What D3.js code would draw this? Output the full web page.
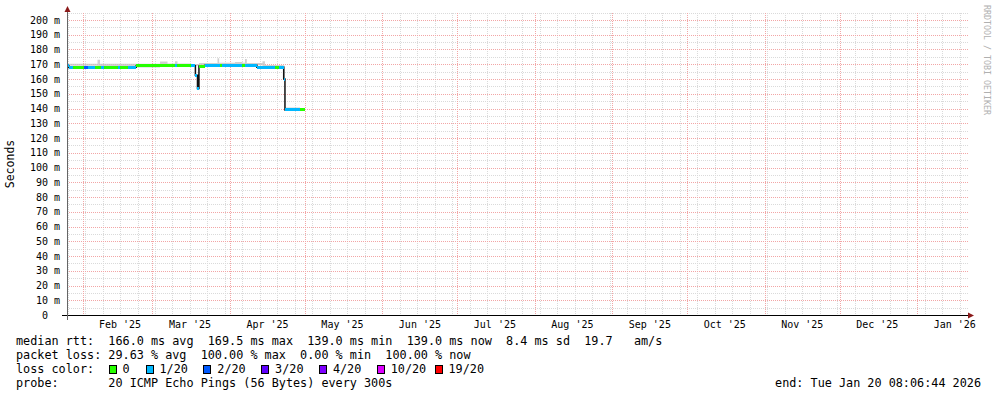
<!DOCTYPE html>
<html>
<head>
<meta charset="utf-8">
<script src="https://cdn.jsdelivr.net/npm/d3@7"></script>
<style>
  body { margin: 0; background: #fff; }
  svg { display: block; font-family: "DejaVu Sans Mono", monospace; }
  text.pre { white-space: pre; }
</style>
</head>
<body>
<svg id="smokeChart"></svg>
<script>
// time window of the graph
const startTime = new Date(2025, 0, 25, 19);
const endTime = new Date(2026, 0, 21, 7);

// month labels on the x axis
const monthLabels = ["Feb '25", "Mar '25", "Apr '25", "May '25", "Jun '25", "Jul '25",
                     "Aug '25", "Sep '25", "Oct '25", "Nov '25", "Dec '25", "Jan '26"];

// y ticks (ms)
const yTickValues = [0, 10, 20, 30, 40, 50, 60, 70, 80, 90, 100, 110, 120, 130, 140, 150, 160, 170, 180, 190, 200];

// median rtt steps: each value holds until the next date, last date closes the line
const medianDates = ["2025-01-25 19", "2025-01-26 12", "2025-01-28 00", "2025-02-01 14", "2025-02-03 00",
                     "2025-02-05 00", "2025-02-06 00", "2025-02-08 06", "2025-02-09 12", "2025-02-15 00",
                     "2025-02-16 00", "2025-02-19 06", "2025-02-22 12", "2025-03-10 00", "2025-03-11 00",
                     "2025-03-16 12", "2025-03-18 04", "2025-03-19 00", "2025-03-19 14", "2025-03-22 00",
                     "2025-03-28 00", "2025-03-29 00", "2025-04-06 00", "2025-04-07 00", "2025-04-11 18",
                     "2025-04-19 00", "2025-04-20 12", "2025-04-22 12", "2025-04-23 00", "2025-04-29 00",
                     "2025-05-01 00"];
const medianRtt = [169.0, 167.8, 167.8, 167.8, 167.8,
                   167.8, 167.8, 168.0, 168.0, 167.8,
                   167.8, 168.0, 169.0, 169.0, 169.0,
                   169.0, 162.5, 153.5, 168.8, 169.3,
                   169.3, 169.3, 169.3, 169.3, 168.0,
                   168.0, 168.0, 160.0, 139.0, 139.0,
                   139.0];
const medianLoss = [1, 1, 0, 2, 1,
                    1, 0, 1, 0, 1,
                    0, 1, 0, 1, 0,
                    1, 1, 1, 0, 1,
                    0, 1, 0, 1, 1,
                    0, 1, 1, 1, 0,
                    0];

// smoke (spread of pings) tops, step wise
const smokeDates = ["2025-01-25 19", "2025-02-07 00", "2025-02-08 00", "2025-03-04 00", "2025-03-07 00",
                    "2025-03-10 00", "2025-03-11 00", "2025-03-16 12", "2025-03-19 14", "2025-03-27 00",
                    "2025-03-27 16", "2025-04-03 00", "2025-04-06 00", "2025-04-07 00", "2025-04-07 18",
                    "2025-04-14 00", "2025-04-15 00", "2025-04-22 12", "2025-04-23 00", "2025-04-29 00",
                    "2025-05-01 00"];
const smokeTop = [170.3, 173.0, 170.3, 171.8, 170.5,
                  172.0, 170.5, 170.2, 170.8, 174.0,
                  171.0, 171.5, 171.0, 173.5, 170.8,
                  172.0, 169.5, 169.0, 140.6, 140.0,
                  140.0];

// loss legend
const lossLabels = ["0", "1/20", "2/20", "3/20", "4/20", "10/20", "19/20"];
const lossColors = ["#26ff00", "#00b8ff", "#0059ff", "#5e00ff", "#7e00ff", "#dd00ff", "#ff0000"];
const lossThresholds = [1, 2, 3, 4, 10, 19];

// legend text rows
const rttRow = ["median rtt:", "166.0 ms avg", "169.5 ms max", "139.0 ms min", "139.0 ms now", "8.4 ms sd", "19.7   am/s"];
const lossRow = ["packet loss:", "29.63 % avg", "100.00 % max", "0.00 % min", "100.00 % now"];
const probeText = "probe:       20 ICMP Echo Pings (56 Bytes) every 300s";
const endText = "end: Tue Jan 20 08:06:44 2026";

// sizes
const widthSVG = 997;
const heightSVG = 397;
const plot = { left: 67, right: 968, top: 13, bottom: 315 };

const SVG = d3.select('svg#smokeChart')
  .attr('width', widthSVG)
  .attr('height', heightSVG);

SVG.append('rect').attr('width', widthSVG).attr('height', heightSVG).attr('fill', '#fff');

const parseTime = d3.timeParse('%Y-%m-%d %H');

const x = d3.scaleTime().domain([startTime, endTime]).range([plot.left, plot.right]);
const y = d3.scaleLinear().domain([0, 200]).range([315, 20]);
const lossColor = d3.scaleThreshold().domain(lossThresholds).range(lossColors);

const px = v => Math.round(v) + 0.5;

// grid
const gridG = SVG.append('g').attr('class', 'grid').attr('shape-rendering', 'crispEdges');

const minorY = d3.range(5, 206, 10);
gridG.selectAll('line.minorY')
  .data(minorY)
  .enter().append('line')
  .attr('x1', plot.left).attr('x2', plot.right)
  .attr('y1', d => px(y(d))).attr('y2', d => px(y(d)))
  .style('stroke', '#dadada').style('stroke-dasharray', '1,1');

const sundays = d3.timeSunday.range(startTime, endTime);
gridG.selectAll('line.minorX')
  .data(sundays)
  .enter().append('line')
  .attr('x1', d => px(x(d))).attr('x2', d => px(x(d)))
  .attr('y1', plot.top).attr('y2', plot.bottom)
  .style('stroke', '#dadada').style('stroke-dasharray', '1,1');

gridG.selectAll('line.majorY')
  .data(yTickValues.filter(d => d > 0))
  .enter().append('line')
  .attr('x1', plot.left).attr('x2', plot.right)
  .attr('y1', d => px(y(d))).attr('y2', d => px(y(d)))
  .style('stroke', '#f2a6a6').style('stroke-dasharray', '1,1');

const monthStarts = d3.timeMonth.range(startTime, endTime);
gridG.selectAll('line.majorX')
  .data(monthStarts)
  .enter().append('line')
  .attr('x1', d => px(x(d))).attr('x2', d => px(x(d)))
  .attr('y1', plot.top).attr('y2', plot.bottom)
  .style('stroke', '#f2a6a6').style('stroke-dasharray', '1,1');

// data
const medData = medianDates.map((d, i) => ({ date: parseTime(d), rtt: medianRtt[i], loss: medianLoss[i] }));
const smokeData = smokeDates.map((d, i) => ({ date: parseTime(d), top: smokeTop[i] }));
const bisect = d3.bisector(d => d.date).right;
const medianAt = t => medData[Math.max(0, bisect(medData, t) - 1)].rtt;

// smoke
const smokeArea = d3.area()
  .x(d => x(d.date))
  .y0(d => y(medianAt(d.date)))
  .y1(d => y(d.top))
  .curve(d3.curveStepAfter);

SVG.append('path')
  .datum(smokeData)
  .attr('d', smokeArea)
  .style('fill', '#c4c4c4')
  .style('fill-opacity', 0.8);

// black median step line
const medLine = d3.line()
  .x(d => x(d.date))
  .y(d => y(d.rtt))
  .curve(d3.curveStepAfter);

SVG.append('path')
  .datum(medData)
  .attr('d', medLine)
  .style('fill', 'none')
  .style('stroke', '#111')
  .style('stroke-width', 1.5);

// coloured median segments
SVG.append('g').attr('shape-rendering', 'crispEdges')
  .selectAll('rect.med')
  .data(medData.slice(0, -1))
  .enter().append('rect')
  .attr('class', 'med')
  .attr('x', d => x(d.date))
  .attr('width', (d, i) => Math.max(1, x(medData[i + 1].date) - x(d.date)))
  .attr('y', d => y(d.rtt) - 1.5)
  .attr('height', 3)
  .style('fill', d => lossColor(d.loss));

// axes
const axisG = SVG.append('g');
axisG.append('line')
  .attr('x1', 62).attr('x2', 970)
  .attr('y1', 315.5).attr('y2', 315.5)
  .style('stroke', '#000');
axisG.append('path')
  .attr('d', 'M968,312.5 L974,315.5 L968,318.5 Z')
  .style('fill', '#8b1a1a');
axisG.append('line')
  .attr('x1', 67.5).attr('x2', 67.5)
  .attr('y1', 320).attr('y2', 10)
  .style('stroke', '#666');
axisG.append('path')
  .attr('d', 'M64.5,12 L67.5,6 L70.5,12 Z')
  .style('fill', '#8b1a1a');

// y labels
SVG.append('g')
  .selectAll('text')
  .data(yTickValues)
  .enter().append('text')
  .attr('x', d => d === 0 ? 48 : 60)
  .attr('y', d => y(d) + 3.5)
  .style('text-anchor', 'end')
  .style('font-size', '10px')
  .style('fill', '#000')
  .text(d => d === 0 ? '0' : d + ' m');

// x labels (centred on mid-month)
SVG.append('g')
  .selectAll('text')
  .data(monthStarts)
  .enter().append('text')
  .attr('x', d => x(d3.timeDay.offset(d, 15)))
  .attr('y', 328)
  .style('text-anchor', 'middle')
  .style('font-size', '10px')
  .text((d, i) => monthLabels[i]);

// y title
SVG.append('text')
  .attr('transform', 'translate(14,164) rotate(-90)')
  .style('text-anchor', 'middle')
  .style('font-size', '11.5px')
  .text('Seconds');

// watermark
SVG.append('text')
  .attr('transform', 'translate(984,5) rotate(90)')
  .style('font-size', '8.3px')
  .style('fill', '#b0b0b0')
  .text('RRDTOOL / TOBI OETIKER');

// legend rows
const legFont = '11.8px';
SVG.append('text').attr('class', 'pre')
  .attr('x', 16).attr('y', 345)
  .style('font-size', legFont)
  .text(rttRow[0] + '  ' + rttRow.slice(1).join('  '));

SVG.append('text').attr('class', 'pre')
  .attr('x', 16).attr('y', 359)
  .style('font-size', legFont)
  .text(lossRow[0] + ' ' + lossRow.slice(1).join('  '));

SVG.append('text').attr('class', 'pre')
  .attr('x', 16).attr('y', 373)
  .style('font-size', legFont)
  .text('loss color:');

const lossG = SVG.append('g')
  .selectAll('g.lossItem')
  .data(lossLabels)
  .enter().append('g')
  .attr('class', 'lossItem')
  .attr('transform', (d, i) => `translate(${i === 0 ? 108.5 : 145.5 + (i - 1) * 57.8}, 0)`);

lossG.append('rect')
  .attr('x', 0.5).attr('y', 365.5)
  .attr('width', 7).attr('height', 8)
  .style('fill', (d, i) => lossColors[i])
  .style('stroke', '#000')
  .style('stroke-width', 1)
  .attr('shape-rendering', 'crispEdges');

lossG.append('text')
  .attr('x', 14).attr('y', 373)
  .style('font-size', legFont)
  .text(d => d);

SVG.append('text').attr('class', 'pre')
  .attr('x', 16).attr('y', 387)
  .style('font-size', legFont)
  .text(probeText);

SVG.append('text')
  .attr('x', 981).attr('y', 387)
  .style('text-anchor', 'end')
  .style('font-size', legFont)
  .text(endText);
</script>
</body>
</html>
